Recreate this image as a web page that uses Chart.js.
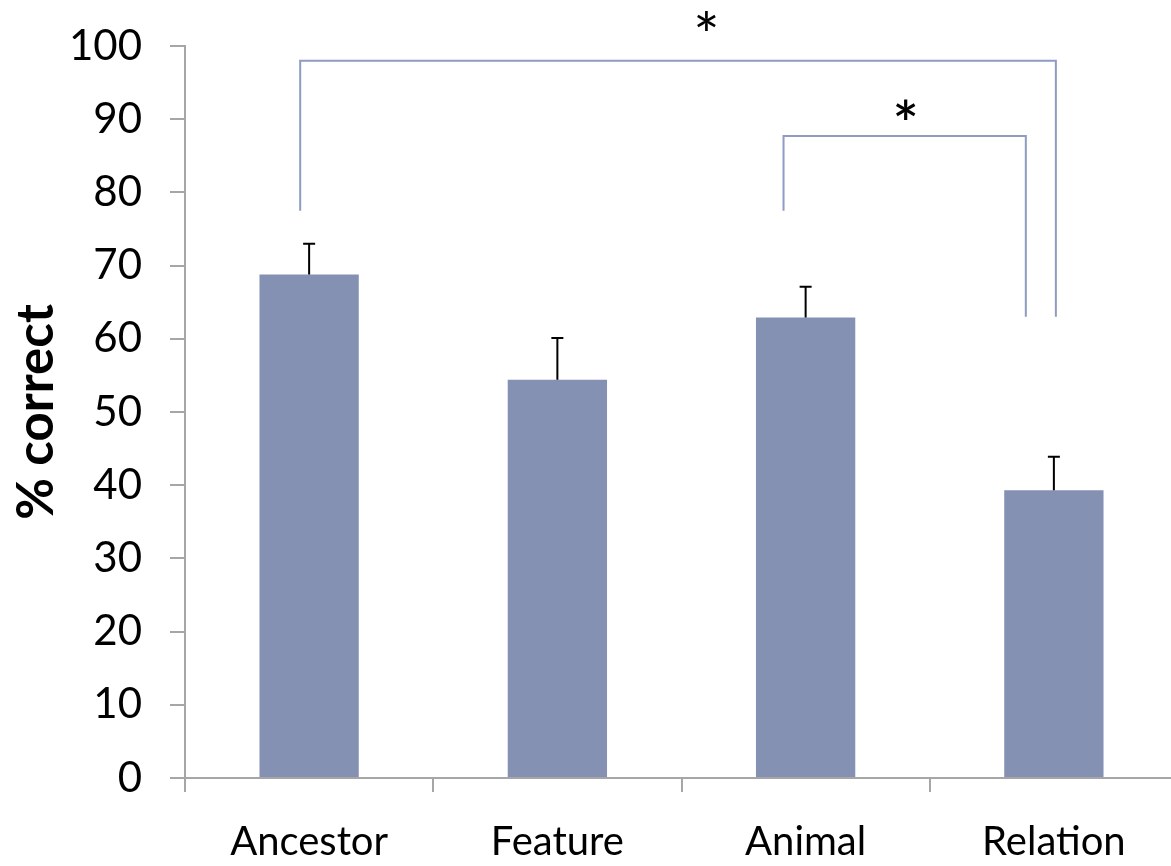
<!DOCTYPE html>
<html>
<head>
<meta charset="utf-8">
<script src="https://cdn.jsdelivr.net/npm/chart.js@4/dist/chart.umd.min.js"></script>
<style>
  html, body { margin: 0; padding: 0; background: #fff; overflow: hidden; }
  #wrap { width: 1178px; height: 866px; }
</style>
</head>
<body>
<div id="wrap"><canvas id="c" width="1178" height="866"></canvas></div>
<script>
// Task categories and mean accuracy per task (%)
const categories = ['Ancestor', 'Feature', 'Animal', 'Relation'];
const meanCorrect = [68.8, 54.4, 62.9, 39.3];
// Upper error (one SE) above each mean
const errorSE = [4.2, 5.7, 4.2, 4.6];
const yTicks = [0, 10, 20, 30, 40, 50, 60, 70, 80, 90, 100];

// Significance brackets: category positions of the two legs, leg ends and bar height (in %)
const bracketFrom = [-0.036, 1.911];
const bracketTo = [3.008, 2.887];
const bracketLeftEnd = [77.5, 77.5];
const bracketRightEnd = [63.0, 63.0];
const bracketTop = [98.0, 87.7];
// Significance marks and where they sit (category position, %)
const bracketMark = ['*', '*'];
const markX = [1.60, 2.403];
const markY = [103.4, 91.35];
const markWeight = ['400', '600'];

const FONT = 'Lato, "Open Sans", sans-serif';
const AXIS = '#a6a6a6';

const errorBars = {
  id: 'errorBars',
  afterDatasetsDraw(chart) {
    const { ctx, scales: { x, y } } = chart;
    ctx.save();
    ctx.strokeStyle = '#000';
    ctx.lineWidth = 2;
    meanCorrect.forEach((v, i) => {
      const px = x.getPixelForValue(i);
      const y0 = y.getPixelForValue(v);
      const y1 = y.getPixelForValue(v + errorSE[i]);
      ctx.beginPath();
      ctx.moveTo(px, y0);
      ctx.lineTo(px, y1);
      ctx.moveTo(px - 6, y1);
      ctx.lineTo(px + 6, y1);
      ctx.stroke();
    });
    ctx.restore();
  }
};

const brackets = {
  id: 'brackets',
  afterDraw(chart) {
    const { ctx, scales: { x, y } } = chart;
    ctx.save();
    ctx.strokeStyle = '#8e9cc2';
    ctx.lineWidth = 2;
    bracketFrom.forEach((f, i) => {
      const xl = x.getPixelForValue(f);
      const xr = x.getPixelForValue(bracketTo[i]);
      const yt = y.getPixelForValue(bracketTop[i]);
      ctx.beginPath();
      ctx.moveTo(xl, y.getPixelForValue(bracketLeftEnd[i]));
      ctx.lineTo(xl, yt);
      ctx.lineTo(xr, yt);
      ctx.lineTo(xr, y.getPixelForValue(bracketRightEnd[i]));
      ctx.stroke();
      ctx.fillStyle = '#000';
      ctx.font = markWeight[i] + ' 62px ' + FONT;
      ctx.textAlign = 'center';
      ctx.textBaseline = 'alphabetic';
      const m = ctx.measureText(bracketMark[i]);
      const cy = y.getPixelForValue(markY[i]);
      const base = cy + (m.actualBoundingBoxAscent - m.actualBoundingBoxDescent) / 2;
      ctx.fillText(bracketMark[i], x.getPixelForValue(markX[i]), base);
    });
    ctx.restore();
  }
};

new Chart(document.getElementById('c'), {
  type: 'bar',
  data: {
    labels: categories,
    datasets: [{
      data: meanCorrect,
      backgroundColor: '#8491b3',
      borderWidth: 0,
      barPercentage: 0.4,
      categoryPercentage: 1.0
    }]
  },
  options: {
    responsive: false,
    animation: false,
    layout: { padding: { top: 46, left: 0, right: 0, bottom: 0 } },
    plugins: { legend: { display: false }, tooltip: { enabled: false } },
    scales: {
      y: {
        min: 0, max: 100,
        afterBuildTicks(s) { s.ticks = yTicks.map(v => ({ value: v })); },
        afterFit(s) { s.width = 185; s.paddingTop = 0; s.paddingBottom = 0; },
        border: { color: AXIS, width: 2 },
        grid: { drawOnChartArea: false, drawTicks: true, tickLength: 15, color: AXIS, lineWidth: 2 },
        ticks: { color: '#000', font: { family: FONT, size: 42 }, padding: 28 },
        title: {
          display: true, text: '% correct', color: '#000',
          font: { family: FONT, size: 51, weight: 'bold' }, padding: { top: 6, bottom: 0 }
        }
      },
      x: {
        afterFit(s) { s.height = 88; s.paddingLeft = 0; s.paddingRight = 0; },
        border: { color: AXIS, width: 2 },
        grid: { offset: true, drawOnChartArea: false, drawTicks: true, tickLength: 14, color: AXIS, lineWidth: 2 },
        ticks: { color: '#000', font: { family: FONT, size: 40 }, padding: 26 }
      }
    }
  },
  plugins: [errorBars, brackets]
});
</script>
</body>
</html>
